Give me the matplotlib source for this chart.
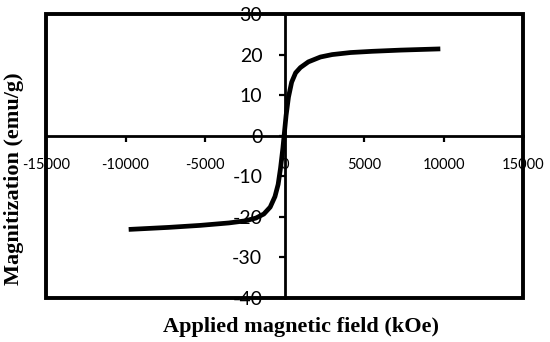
import matplotlib.pyplot as plt
from matplotlib.patches import Rectangle

# hysteresis curve
field = [-9800, -7300, -5300, -3500, -2500, -1800, -1300, -900, -600, -400,
         -250, -100, 0, 100, 250, 450, 700, 1000, 1500, 2260, 3000, 4150,
         5500, 7300, 9800]
magnet = [-23.1, -22.6, -22.1, -21.5, -21.0, -20.3, -19.3, -17.6, -15.0, -12.0,
          -8.0, -3.0, 1.0, 5.0, 9.5, 13.2, 15.5, 16.8, 18.2, 19.4, 20.0, 20.5,
          20.8, 21.1, 21.4]
xticks = [-15000, -10000, -5000, 0, 5000, 10000, 15000]
yticks = [-40, -30, -20, -10, 0, 10, 20, 30]

fig = plt.figure(figsize=(5.5, 3.42), dpi=100)
ax = fig.add_axes([46 / 550, 44 / 342, 477 / 550, 284 / 342])

ax.plot(field, magnet, color='black', lw=3.4, solid_capstyle='butt',
        solid_joinstyle='round', zorder=3)

ax.set_xlim(-15000, 15000)
ax.set_ylim(-40, 30)

for s in ['top', 'right']:
    ax.spines[s].set_visible(False)
ax.spines['left'].set_position(('data', 0))
ax.spines['bottom'].set_position(('data', 0))
for s in ['left', 'bottom']:
    ax.spines[s].set_linewidth(2.0)

# outer frame of the plot area
ax.add_patch(Rectangle((0, 0), 1, 1, transform=ax.transAxes, fill=False,
                       lw=2.8, edgecolor='black', clip_on=False, zorder=4))

ax.set_xticks(xticks)
ax.set_yticks(yticks)
ax.set_xticklabels([str(t) for t in xticks], family='Lato', fontsize=10.5)
ax.set_yticklabels([str(t) for t in yticks], family='Lato', fontsize=14)
ax.tick_params(axis='x', direction='out', length=4, width=1.6, pad=12)
ax.tick_params(axis='y', direction='out', length=4, width=1.6, pad=12)

fig.text(301 / 550, (342 - 327) / 342, 'Applied magnetic field (kOe)',
         family='Liberation Serif', fontweight='bold', fontsize=16,
         ha='center', va='center')
fig.text(14 / 550, (342 - 179) / 342, 'Magnitization (emu/g)',
         family='Liberation Serif', fontweight='bold', fontsize=16,
         rotation=90, ha='center', va='center')

fig.savefig('out.png', dpi=100)
